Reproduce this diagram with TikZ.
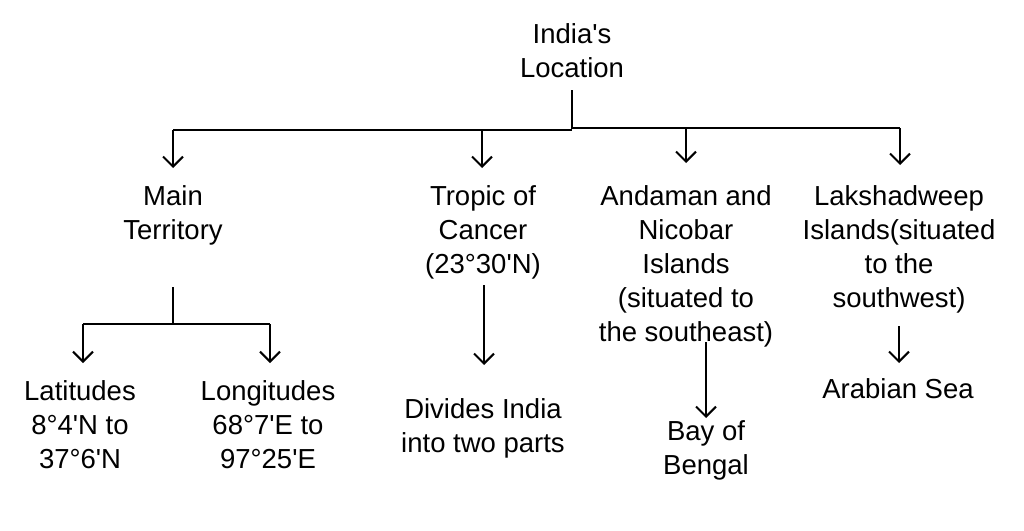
\documentclass[tikz,border=0pt]{standalone}
\usepackage{fontspec}
\newfontfamily\lblfont{Liberation Sans}
\usetikzlibrary{arrows.meta}
\begin{document}
\begin{tikzpicture}[x=1pt,y=-1pt,
  lbl/.style={font=\lblfont\fontsize{27.5}{34}\selectfont, align=center, inner sep=0pt, anchor=north},
  arr/.style={line width=2pt, -{Straight Barb[length=10pt,width=20pt,line width=2pt]}},
  bar/.style={line width=2.6pt}]
\useasboundingbox (0,0) rectangle (1024,530);
\fill[white] (0,0) rectangle (1024,530);
% nodes
\node[lbl] (root) at (572,23) {India's\\Location};
\node[lbl] (main) at (173,185) {Main\\Territory};
\node[lbl] (trop) at (483,185) {Tropic of\\Cancer\\(23°30'N)};
\node[lbl] (anda) at (686,185) {Andaman and\\Nicobar\\Islands\\(situated to\\the southeast)};
\node[lbl] (laks) at (899,185) {Lakshadweep\\Islands(situated\\to the\\southwest)};
\node[lbl] (lat) at (80,380) {Latitudes\\8°4'N to\\37°6'N};
\node[lbl] (lon) at (268,380) {Longitudes\\68°7'E to\\97°25'E};
\node[lbl] (div) at (483,398) {Divides India\\into two parts};
\node[lbl] (bay) at (706,420) {Bay of\\Bengal};
\node[lbl] (arab) at (898,378) {Arabian Sea};
% top tree
\coordinate (hub) at (572,129);
\draw[bar] (572,90) -- (hub);
\draw[bar] (173,130) -- (572,130);
\draw[bar] (572,128) -- (900,128);
\coordinate (a1) at (173,130);
\coordinate (a2) at (482,130);
\coordinate (a3) at (686,128);
\coordinate (a4) at (900,128);
\draw[arr, shorten >=17pt] (a1) -- (a1 |- main.north);
\draw[arr, shorten >=17pt] (a2) -- (a2 |- trop.north);
\draw[arr, shorten >=22pt] (a3) -- (a3 |- anda.north);
\draw[arr, shorten >=20pt] (a4) -- (a4 |- laks.north);
% main territory sub-tree
\coordinate (mtop) at (173,287);
\coordinate (mhub) at (173,324);
\draw[bar] (mtop) -- (mhub);
\coordinate (b1) at (83,324);
\coordinate (b2) at (270,324);
\draw[bar] (b1) -- (b2);
\draw[arr, shorten >=17pt] (b1) -- (b1 |- lat.north);
\draw[arr, shorten >=17pt] (b2) -- (b2 |- lon.north);
% tropic
\coordinate (c1) at (484,285);
\draw[arr, shorten >=33pt] (c1) -- (c1 |- div.north);
% andaman
\coordinate (d1) at (706,342);
\draw[arr, shorten >=2pt] (d1) -- (d1 |- bay.north);
% lakshadweep
\coordinate (e1) at (899,326);
\draw[arr, shorten >=15pt] (e1) -- (e1 |- arab.north);
\end{tikzpicture}
\end{document}
